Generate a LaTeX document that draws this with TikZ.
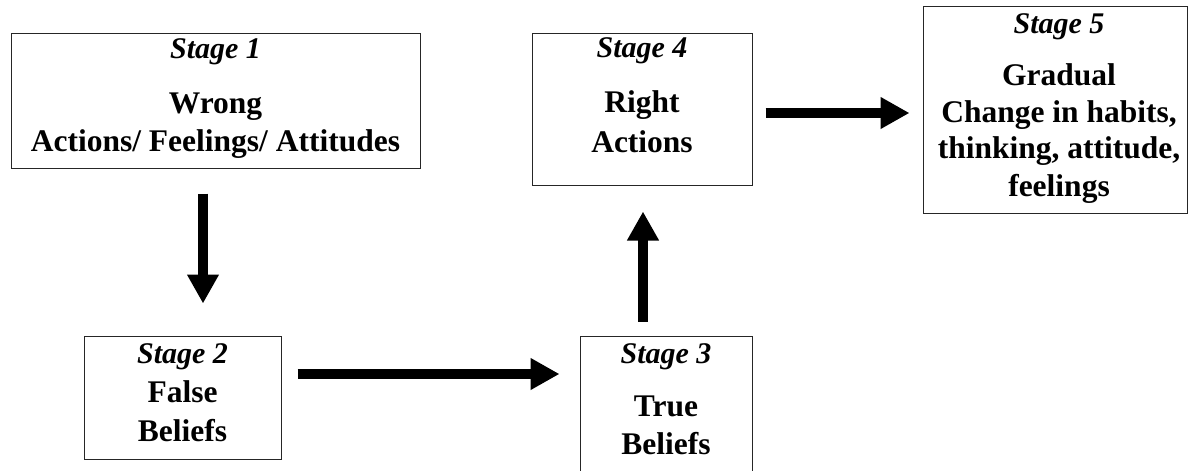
\documentclass[tikz,border=0pt]{standalone}
\usepackage{fontspec}
\setmainfont{Liberation Serif}
\usetikzlibrary{arrows.meta,positioning}
\tikzset{
	stage diagram/.style={
		x=1pt,y=-1pt, % one unit per pixel of the picture
		font=\fontsize{31.5}{38}\selectfont\bfseries,
		stage box/.style={
			rectangle,
			draw=black!85,
			line width=1pt,
			inner sep=0pt
		},
		stage text/.style={
			align=center,
			anchor=north,
			inner sep=0pt
		},
		stage arrow/.style={
			line width=10pt,
			-{Triangle[length=29pt,width=30pt]}
		}
	}
}
\newcommand{\stagename}[1]{{\fontsize{30}{38}\selectfont\itshape Stage #1}}

\begin{document}
\begin{tikzpicture}[stage diagram]
		\useasboundingbox (0,0) rectangle (1191,471);
		% boxes
		\node[stage box,minimum width=409pt,minimum height=135pt] (s1) at (215.5,100.5) {};
		\node[stage box,minimum width=197pt,minimum height=123pt] (s2) at (182.5,397.5) {};
		\node[stage box,minimum width=172pt,minimum height=144pt] (s3) at (666,408) {};
		\node[stage box,minimum width=220pt,minimum height=152pt] (s4) at (642,109) {};
		\node[stage box,minimum width=264pt,minimum height=207pt] (s5) at (1055,109.5) {};
		% texts
		\node[stage text] (s1 text) at ([yshift=-6pt]s1.north) {\stagename{1}\\[17pt] Wrong\\ Actions/ Feelings/ Attitudes};
		\node[stage text] (s2 text) at ([yshift=-8pt]s2.north) {\stagename{2}\\[1pt] False\\[1pt] Beliefs};
		\node[stage text] (s3 text) at ([yshift=-8pt]s3.north) {\stagename{3}\\[15pt] True\\ Beliefs};
		\node[stage text] (s4 text) at ([yshift=-4.5pt]s4.north) {\stagename{4}\\[17pt] Right\\[2pt] Actions};
		\node[stage text] (s5 text) at ([yshift=-8pt,xshift=4pt]s5.north) {\stagename{5}\\[14pt] Gradual\\[-1pt] Change in habits,\\[-2pt] thinking, attitude,\\ feelings};
		% arrows
		\coordinate (a12) at (203,0);
		\coordinate (a23) at (0,374);
		\coordinate (a34) at (643,0);
		\coordinate (a45) at (0,113);
		\draw[stage arrow,shorten <=25pt,shorten >=32pt] (s1.south -| a12) -- (s2.north -| a12);
		\draw[stage arrow,shorten <=16pt,shorten >=20pt] (s2.east |- a23) -- (s3.west |- a23);
		\draw[stage arrow,shorten <=14pt,shorten >=26pt] (s3.north -| a34) -- (s4.south -| a34);
		\draw[stage arrow,shorten <=13pt,shorten >=13pt] (s4.east |- a45) -- (s5.west |- a45);
	\end{tikzpicture}
\end{document}
